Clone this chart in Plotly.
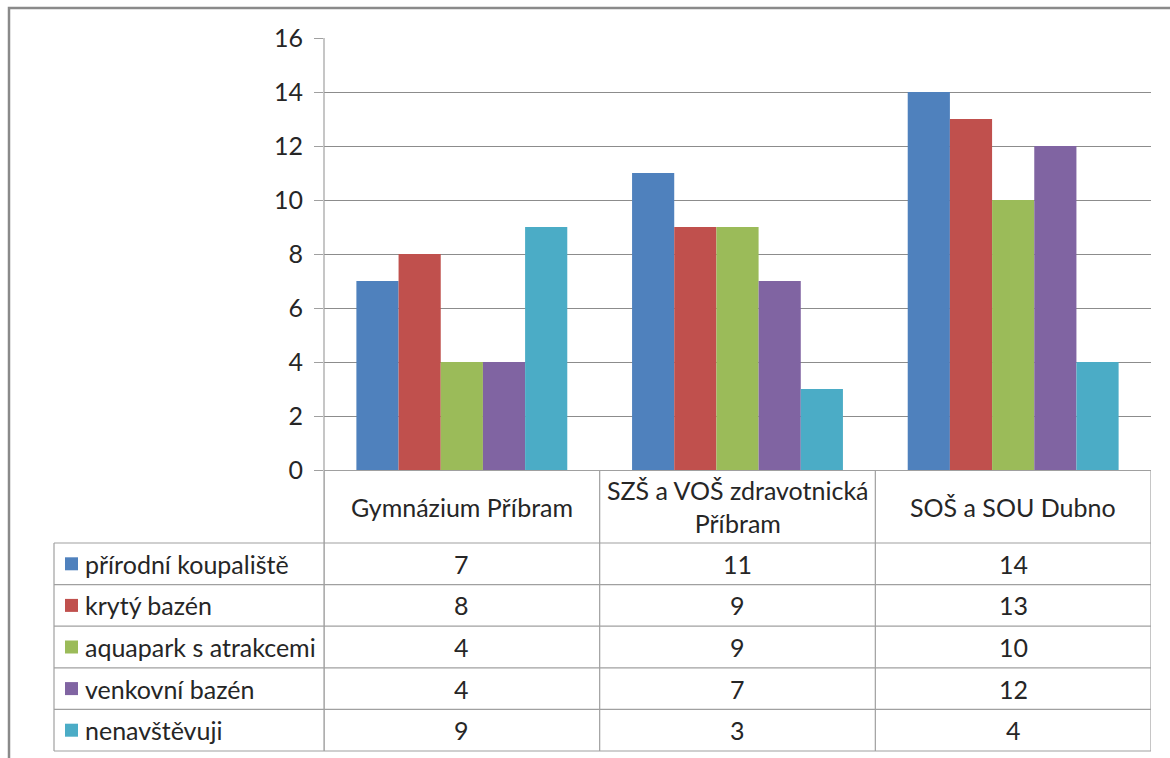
import plotly.graph_objects as go

# Data
schools = ["Gymnázium Příbram", "SZŠ a VOŠ zdravotnická Příbram", "SOŠ a SOU Dubno"]
school_labels = ["Gymnázium Příbram", "SZŠ a VOŠ zdravotnická<br>Příbram", "SOŠ a SOU Dubno"]
prirodni_koupaliste = [7, 11, 14]
kryty_bazen = [8, 9, 13]
aquapark = [4, 9, 10]
venkovni_bazen = [4, 7, 12]
nenavstevuji = [9, 3, 4]

series_names = ["přírodní koupaliště", "krytý bazén", "aquapark s atrakcemi",
                "venkovní bazén", "nenavštěvuji"]
series_values = [prirodni_koupaliste, kryty_bazen, aquapark, venkovni_bazen, nenavstevuji]
colors = ["#4F81BD", "#C0504D", "#9BBB59", "#8064A2", "#4BACC6"]

W, H = 1170, 758
FONT = "Lato"
FS = 25
TXT = "#262626"
GRID = "#8C8C8C"
LINE = "#A0A0A0"

def py(p):
    return (H - p) / H

def px(p):
    return p / W

# plot area in pixels
x_left, x_right = 324, 1151
y_top, y_zero = 38, 470
header_bottom = 543
row_h = (751 - header_bottom) / 5
table_left = 54

fig = go.Figure()
for name, vals, col in zip(series_names, series_values, colors):
    fig.add_trace(go.Bar(x=schools, y=vals, name=name, marker=dict(color=col, line=dict(width=0)),
                         showlegend=False))

shapes = []
annotations = []

# outer frame
shapes.append(dict(type="rect", xref="paper", yref="paper", x0=px(9), x1=px(1200),
                   y0=py(800), y1=py(8), line=dict(color="#8A8A8A", width=2.5)))

# y axis line extended through the table
shapes.append(dict(type="line", xref="paper", yref="paper", x0=px(x_left), x1=px(x_left),
                   y0=py(751), y1=py(y_top), line=dict(color=LINE, width=1.2)))

# vertical column separators of the table
for i in range(len(schools) + 1):
    shapes.append(dict(type="line", xref="x", yref="paper", x0=i - 0.5, x1=i - 0.5,
                       y0=py(751), y1=py(y_zero), line=dict(color=LINE, width=1.2)))

# left border of the legend column
shapes.append(dict(type="line", xref="paper", yref="paper", x0=px(table_left), x1=px(table_left),
                   y0=py(751), y1=py(header_bottom), line=dict(color=LINE, width=1.2)))

# horizontal row lines
for r in range(len(series_names) + 1):
    yy = header_bottom + r * row_h
    shapes.append(dict(type="line", xref="paper", yref="paper", x0=px(table_left), x1=px(x_right),
                       y0=py(yy), y1=py(yy), line=dict(color=LINE, width=1.2)))

# header category labels
for i, lab in enumerate(school_labels):
    annotations.append(dict(x=i, xref="x", y=py((y_zero + header_bottom) / 2), yref="paper",
                            text=lab, showarrow=False, font=dict(family=FONT, size=FS, color=TXT),
                            xanchor="center", yanchor="middle"))

# table rows: legend key, name, values
for r, (name, vals, col) in enumerate(zip(series_names, series_values, colors)):
    yc = header_bottom + (r + 0.5) * row_h
    shapes.append(dict(type="rect", xref="paper", yref="paper", x0=px(65), x1=px(78),
                       y0=py(yc + 6.5), y1=py(yc - 6.5), fillcolor=col, line=dict(width=0)))
    annotations.append(dict(x=px(83), xref="paper", y=py(yc), yref="paper", text=name,
                            showarrow=False, font=dict(family=FONT, size=FS, color=TXT),
                            xanchor="left", yanchor="middle"))
    for i, v in enumerate(vals):
        annotations.append(dict(x=i, xref="x", y=py(yc), yref="paper", text=str(v),
                                showarrow=False, font=dict(family=FONT, size=FS, color=TXT),
                                xanchor="center", yanchor="middle"))

fig.update_layout(
    template="none",
    width=W, height=H, autosize=False,
    margin=dict(l=0, r=0, t=0, b=0, pad=0),
    paper_bgcolor="white", plot_bgcolor="white",
    barmode="group", bargap=0.235, bargroupgap=0,
    font=dict(family=FONT, size=FS, color=TXT),
    xaxis=dict(domain=[px(x_left), px(x_right)], range=[-0.5, 2.5], showticklabels=False,
               showgrid=False, zeroline=False, showline=True, linecolor=LINE, linewidth=1.2,
               ticks="", automargin=False),
    yaxis=dict(domain=[py(y_zero), py(y_top)], range=[0, 16], dtick=2, tick0=0,
               showgrid=True, gridcolor=GRID, gridwidth=1.2, zeroline=False,
               showline=False, ticks="outside", ticklen=9, tickcolor=LINE, tickwidth=1.2,
               ticklabelstandoff=6, automargin=False,
               tickfont=dict(family=FONT, size=FS, color=TXT)),
    shapes=shapes,
    annotations=annotations,
)

fig.write_html("out.html")
